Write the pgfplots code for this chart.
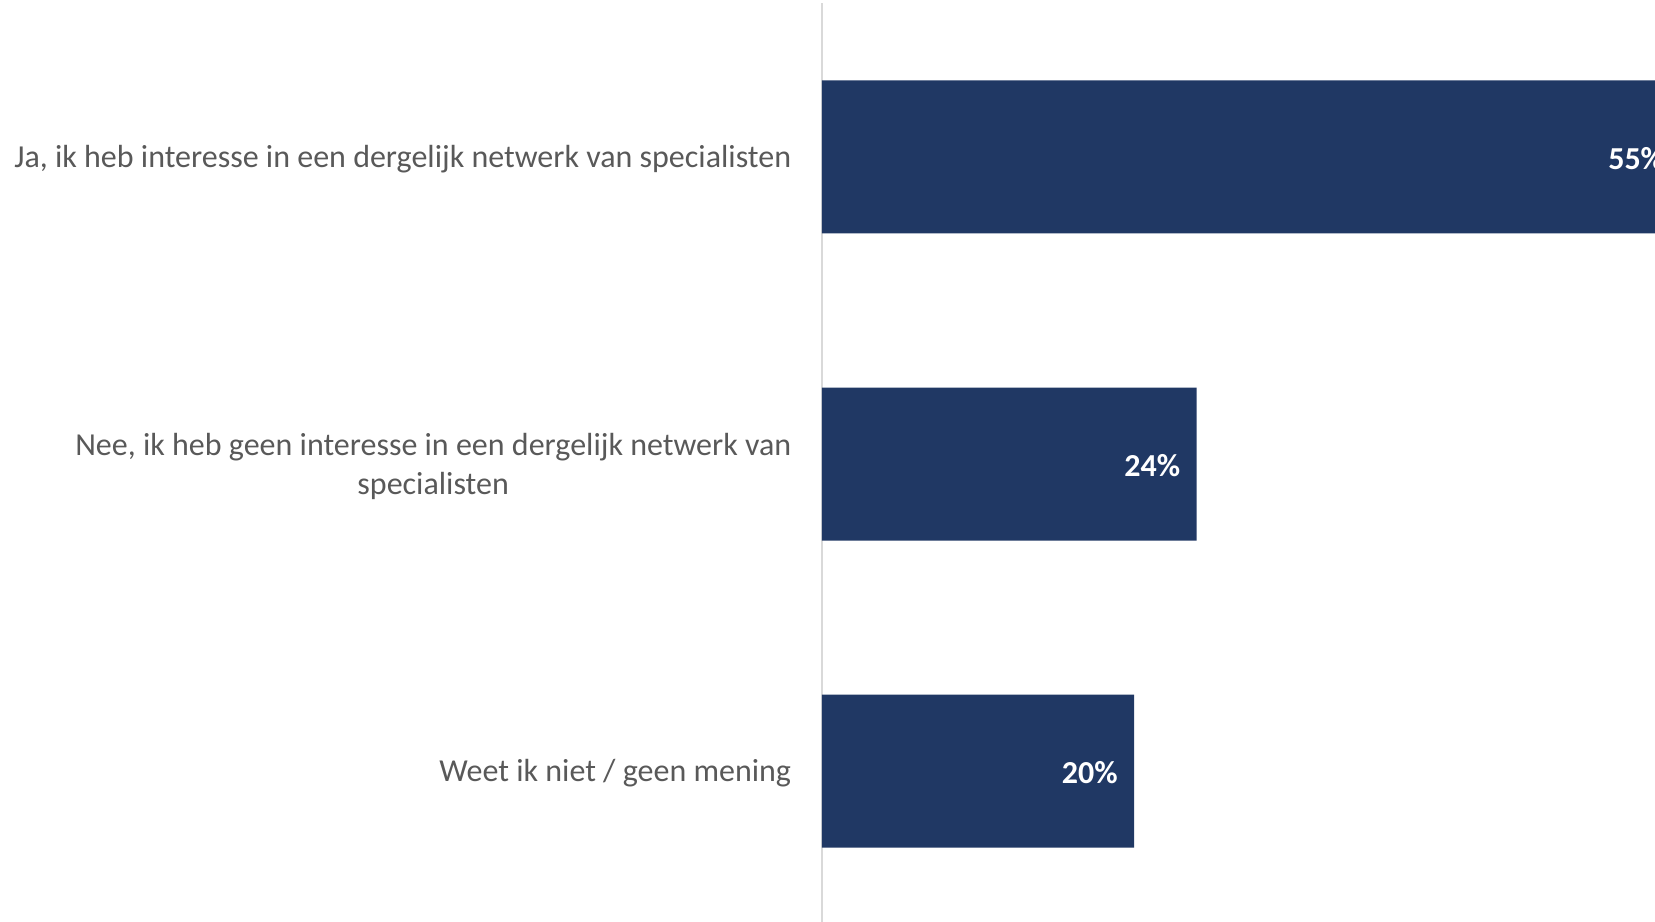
\documentclass[border=0pt]{standalone}
\usepackage{pgfplots}
\pgfplotsset{compat=1.18}
\usepackage{fontspec}
\setmainfont{Carlito}
\definecolor{barblue}{HTML}{203864}
\definecolor{txtgray}{HTML}{595959}
\definecolor{axgray}{HTML}{D9D9D9}
\begin{document}
\begin{tikzpicture}
\begin{axis}[
  scale only axis,
  width=312.375pt, height=345.6pt,
  xbar, bar width=57.375pt,
  xmin=0, xmax=53.36,
  ymin=-0.5, ymax=2.5,
  clip=false,
  y dir=reverse,
  axis x line=none,
  axis y line=left,
  y axis line style={draw=axgray, line width=0.75pt, -},
  ytick={0,1,2},
  major tick length=0pt,
  yticklabels={{Ja, ik heb interesse in een dergelijk netwerk van specialisten},{Nee, ik heb geen interesse in een dergelijk netwerk van\\specialisten},{Weet ik niet / geen mening}},
  yticklabel style={align=center, anchor=east, inner sep=0pt, xshift=-11.4pt, yshift=-0.8pt, text=txtgray, font=\fontsize{12}{14.6}\selectfont},
  point meta=x,
  nodes near coords={\pgfmathprintnumber[assume math mode=true]{\pgfplotspointmeta}\%},
  nodes near coords style={anchor=east, inner sep=0pt, xshift=-6pt, yshift=-0.7pt, text=white, font=\fontsize{12}{14.4}\selectfont\bfseries},
]
\addplot[fill=barblue, draw=none] coordinates {(55,0) (24,1) (20,2)};
\end{axis}
\pgfresetboundingbox
\path[use as bounding box] ([xshift=-308.25pt, yshift=1.05pt]current axis.south west) rectangle ++(620.625pt, 345.75pt);
\end{tikzpicture}
\end{document}
